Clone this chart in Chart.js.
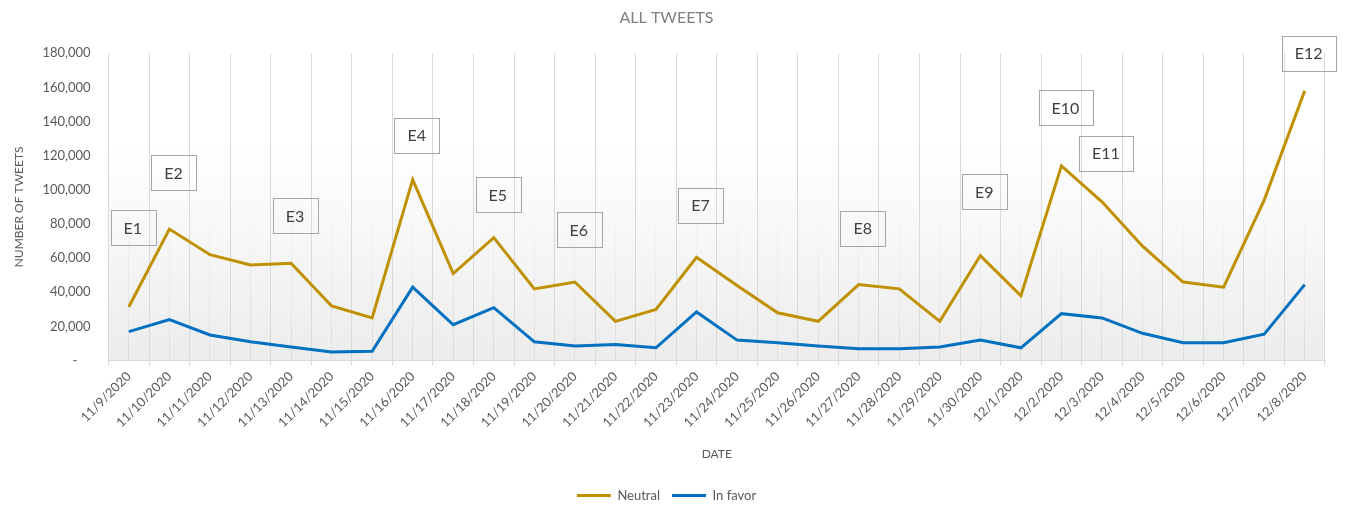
<!DOCTYPE html>
<html>
<head>
<meta charset="utf-8">
<script src="https://cdn.jsdelivr.net/npm/chart.js@4"></script>
<style>
  html, body { margin: 0; padding: 0; background: #fff; }
  #wrap { width: 1347px; height: 506px; }
</style>
</head>
<body>
<div id="wrap"><canvas id="myChart"></canvas></div>
<script>
// dates on the x axis
const dates = [
  '11/9/2020', '11/10/2020', '11/11/2020', '11/12/2020', '11/13/2020', '11/14/2020',
  '11/15/2020', '11/16/2020', '11/17/2020', '11/18/2020', '11/19/2020', '11/20/2020',
  '11/21/2020', '11/22/2020', '11/23/2020', '11/24/2020', '11/25/2020', '11/26/2020',
  '11/27/2020', '11/28/2020', '11/29/2020', '11/30/2020', '12/1/2020', '12/2/2020',
  '12/3/2020', '12/4/2020', '12/5/2020', '12/6/2020', '12/7/2020', '12/8/2020'
];
// tweet counts
const neutral = [
  31500, 77000, 62000, 56000, 57000, 32000, 25000, 106000, 51000, 72000,
  42000, 46000, 23000, 30000, 60500, 44000, 28000, 23000, 44500, 42000,
  23000, 61500, 38000, 114000, 93000, 67000, 46000, 43000, 94000, 158000
];
const inFavor = [
  17000, 24000, 15000, 11000, 8000, 5000, 5500, 43000, 21000, 31000,
  11000, 8500, 9500, 7500, 28500, 12000, 10500, 8500, 7000, 7000,
  8000, 12000, 7500, 27500, 25000, 16000, 10500, 10500, 15500, 44500
];
const yTicks = [0, 20000, 40000, 60000, 80000, 100000, 120000, 140000, 160000, 180000];

// event callouts: label, date it sits over, and the level of its centre
const eventLabels = ['E1', 'E2', 'E3', 'E4', 'E5', 'E6', 'E7', 'E8', 'E9', 'E10', 'E11', 'E12'];
const eventDates = ['11/9/2020', '11/10/2020', '11/13/2020', '11/16/2020', '11/18/2020', '11/20/2020',
  '11/23/2020', '11/27/2020', '11/30/2020', '12/2/2020', '12/3/2020', '12/8/2020'];
const eventLevels = [78000, 110000, 85000, 132000, 97000, 76500, 91000, 77500, 99000, 148000, 121500, 180000];

const FONT = 'Lato, "Open Sans", sans-serif';
const GREY = '#595959';

// gradient fill behind the plot
const plotBg = {
  id: 'plotBg',
  beforeDraw(chart) {
    const { ctx, chartArea: a } = chart;
    const g = ctx.createLinearGradient(0, a.top, 0, a.bottom);
    g.addColorStop(0, '#ffffff');
    g.addColorStop(0.3, '#ffffff');
    g.addColorStop(1, '#ececec');
    ctx.save();
    ctx.fillStyle = g;
    ctx.fillRect(a.left, a.top, a.right - a.left, a.bottom - a.top);
    ctx.restore();
  }
};

// outlined event boxes
const eventBoxes = {
  id: 'eventBoxes',
  afterDatasetsDraw(chart) {
    const { ctx, scales } = chart;
    ctx.save();
    ctx.font = '16px ' + FONT;
    ctx.textAlign = 'center';
    ctx.textBaseline = 'middle';
    eventLabels.forEach((lbl, i) => {
      const x = scales.x.getPixelForValue(dates.indexOf(eventDates[i])) + 4;
      const y = scales.y.getPixelForValue(eventLevels[i]);
      const w = ctx.measureText(lbl).width + 26;
      const h = 35;
      ctx.strokeStyle = '#a6a6a6';
      ctx.lineWidth = 1;
      ctx.strokeRect(Math.round(x - w / 2) + 0.5, Math.round(y - h / 2) + 0.5, Math.round(w), h);
      ctx.fillStyle = '#404040';
      ctx.fillText(lbl, x, y + 1);
    });
    ctx.restore();
  }
};

// faint lines under each date, fading in toward the bottom
function centreLineColour(c) {
  const a = c.chart.chartArea;
  if (!a) return 'rgba(0,0,0,0)';
  const g = c.chart.ctx.createLinearGradient(0, a.top, 0, a.bottom);
  g.addColorStop(0, 'rgba(0,0,0,0)');
  g.addColorStop(0.4, 'rgba(0,0,0,0)');
  g.addColorStop(1, 'rgba(0,0,0,0.07)');
  return g;
}

const data = {
  labels: dates,
  datasets: [{
    label: 'Neutral',
    data: neutral,
    borderColor: '#bf9000',
    backgroundColor: '#bf9000',
    borderWidth: 3,
    pointRadius: 0,
    pointStyle: 'line',
    tension: 0
  }, {
    label: 'In favor',
    data: inFavor,
    borderColor: '#0070c0',
    backgroundColor: '#0070c0',
    borderWidth: 3,
    pointRadius: 0,
    pointStyle: 'line',
    tension: 0
  }]
};

const config = {
  type: 'line',
  data: data,
  plugins: [plotBg, eventBoxes],
  options: {
    responsive: true,
    maintainAspectRatio: false,
    animation: false,
    layout: { padding: { left: 8, right: 22, top: 0, bottom: -6 } },
    plugins: {
      title: {
        display: true,
        text: 'ALL TWEETS',
        color: '#808080',
        font: { family: FONT, size: 16, weight: 'normal' },
        padding: { top: 8, bottom: 26 }
      },
      legend: {
        position: 'bottom',
        labels: {
          usePointStyle: true,
          pointStyleWidth: 34,
          color: GREY,
          font: { family: FONT, size: 13 },
          padding: 12
        }
      },
      tooltip: { enabled: false }
    },
    scales: {
      x: {
        offset: true,
        grid: { offset: true, color: '#d9d9d9', tickLength: 5 },
        border: { color: '#d9d9d9' },
        ticks: {
          autoSkip: false,
          maxRotation: 45,
          minRotation: 45,
          color: GREY,
          font: { family: FONT, size: 13 }
        },
        title: {
          display: true,
          text: 'DATE',
          color: GREY,
          font: { family: FONT, size: 12 },
          padding: { top: 13, bottom: 16 }
        }
      },
      xc: {
        type: 'category',
        labels: dates,
        offset: true,
        position: 'bottom',
        display: true,
        grid: { offset: false, color: centreLineColour, drawTicks: false },
        border: { display: false },
        ticks: { display: false }
      },
      y: {
        min: 0,
        max: 180000,
        afterBuildTicks: axis => { axis.ticks = yTicks.map(v => ({ value: v })); },
        grid: { display: false },
        border: { display: false },
        ticks: {
          color: GREY,
          font: { family: FONT, size: 13 },
          padding: 10,
          callback: v => v === 0 ? '-    ' : v.toLocaleString('en-US')
        },
        title: {
          display: true,
          text: 'NUMBER OF TWEETS',
          color: GREY,
          font: { family: FONT, size: 12 },
          padding: { bottom: 6 }
        }
      }
    }
  }
};

const myChart = new Chart(document.getElementById('myChart'), config);
</script>
</body>
</html>
